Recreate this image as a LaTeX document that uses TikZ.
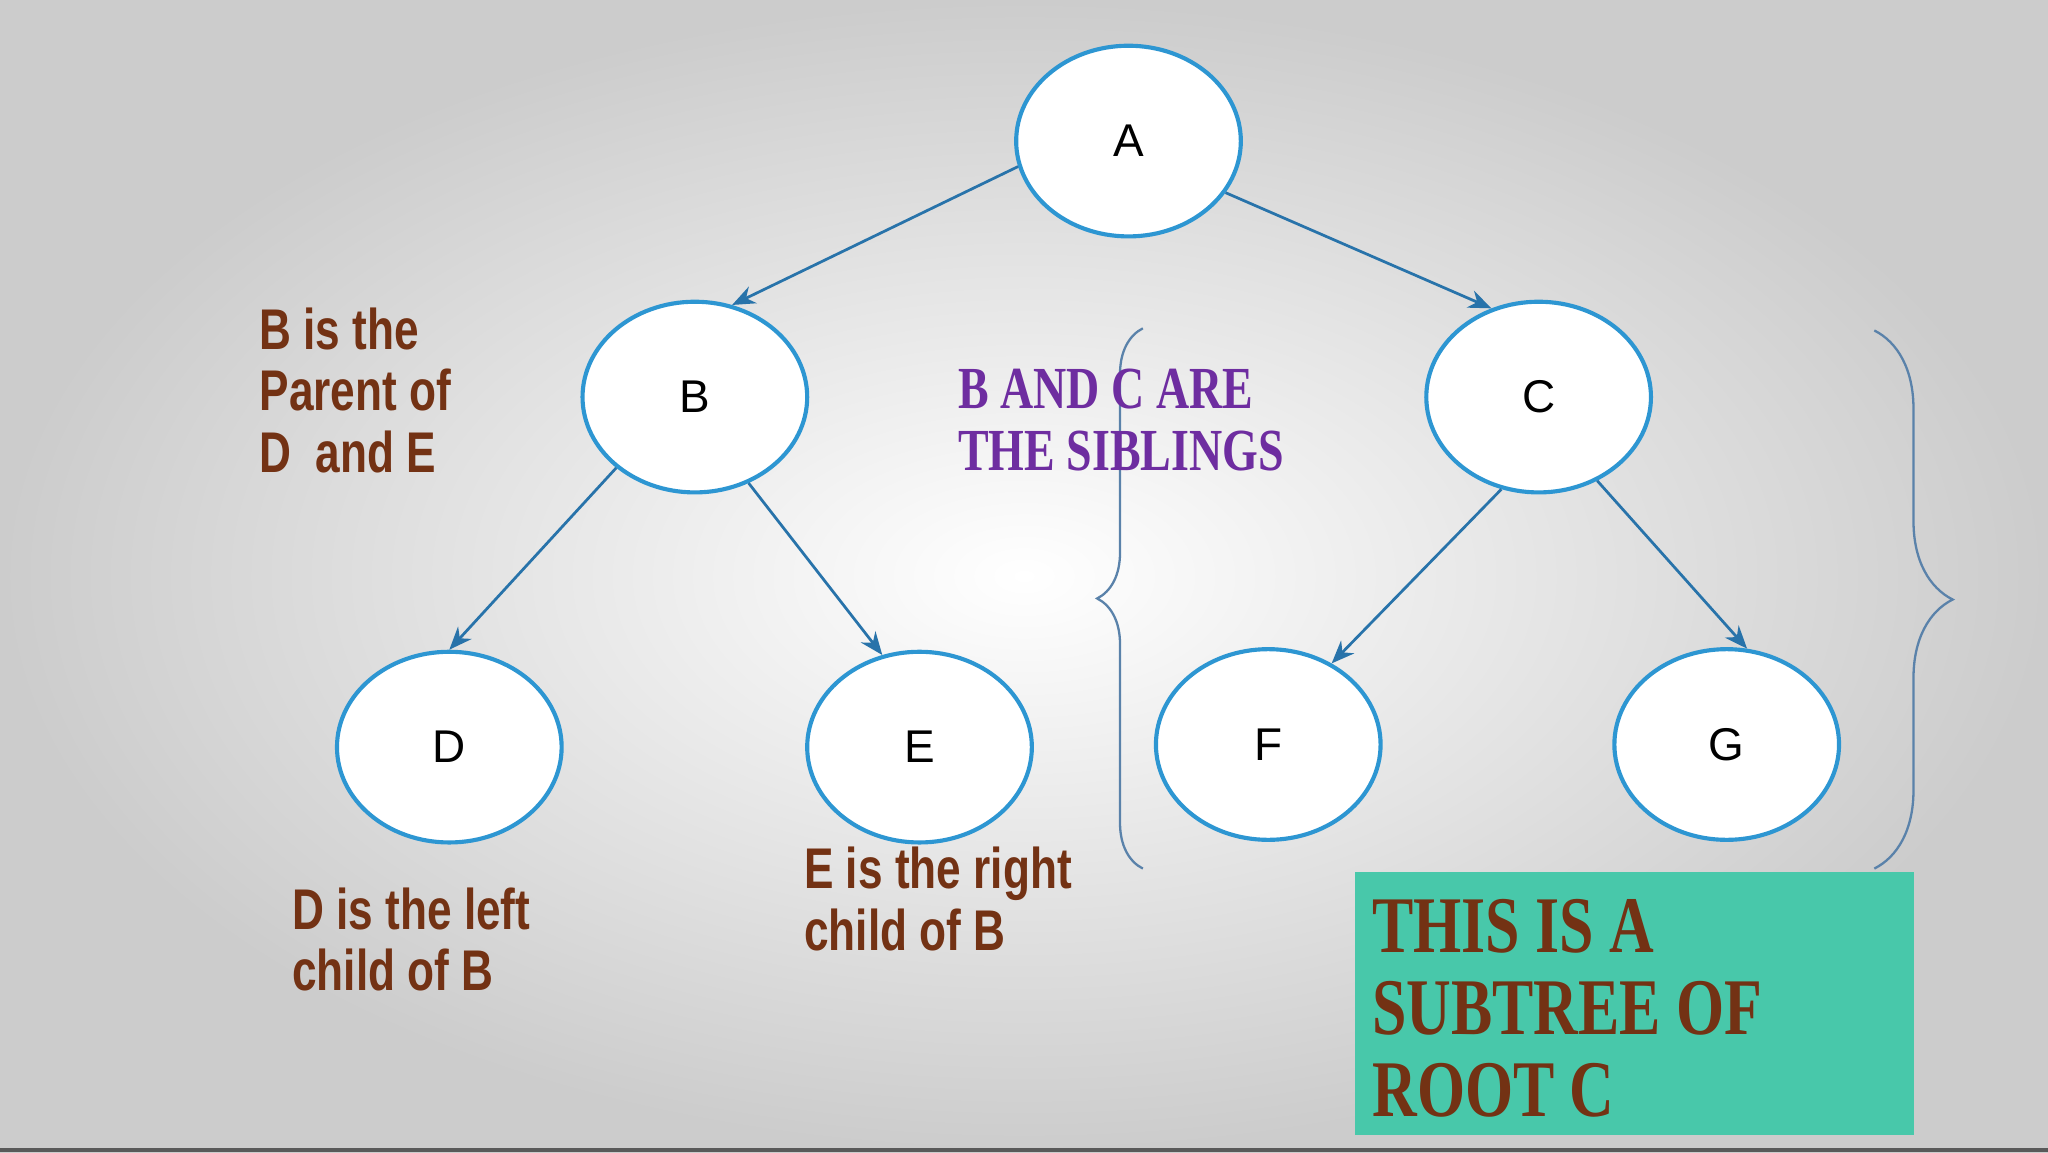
\documentclass[tikz,border=0pt]{standalone}
\usepackage{fontspec}
\setmainfont{Liberation Serif}
\setsansfont{Liberation Sans}
\newfontfamily\narrowsans[FakeStretch=0.77]{Liberation Sans}
\newfontfamily\narrowserif[FakeStretch=0.77]{Liberation Serif}
\usetikzlibrary{decorations.pathreplacing,arrows.meta,shapes.geometric}
\definecolor{nodeblue}{RGB}{45,150,210}
\definecolor{edgeblue}{RGB}{40,115,170}
\definecolor{brownt}{RGB}{115,50,20}
\definecolor{purplet}{RGB}{110,45,160}
\definecolor{greenbox}{RGB}{72,200,170}
\definecolor{bracec}{RGB}{90,130,170}
\tikzset{
  treenode/.style={ellipse,draw=nodeblue,line width=0.9pt,fill=white,minimum width=1.72cm,minimum height=1.46cm,inner sep=0pt,font=\sffamily\fontsize{10}{12}\selectfont},
  edge/.style={draw=edgeblue,line width=0.6pt,-{Stealth[length=5pt,width=4pt]}},
  note/.style={anchor=north west,align=left,text=brownt,font=\narrowsans\bfseries\fontsize{12.5}{13.4}\selectfont,inner sep=0pt},
  bracel/.style={draw=bracec,line width=0.5pt,decorate,decoration={brace,amplitude=0.35cm}}
}
\begin{document}
\begin{tikzpicture}
\useasboundingbox (0,0) rectangle (15.68,8.82);
\shade[inner color=white,outer color=gray!40] (0,0) rectangle (15.68,8.82);
\fill[gray!70!black] (0,0) rectangle (15.68,0.03);
% nodes
\node[treenode] (A) at (8.64,7.74) {A};
\node[treenode] (B) at (5.32,5.78) {B};
\node[treenode] (C) at (11.78,5.78) {C};
\node[treenode] (D) at (3.44,3.10) {D};
\node[treenode] (E) at (7.04,3.10) {E};
\node[treenode] (F) at (9.71,3.12) {F};
\node[treenode] (G) at (13.22,3.12) {G};
% edges
\draw[edge] (A.193) -- (B.68);
\draw[edge] (A.-28) -- (C.118);
\draw[edge] (B.-138) -- (D.90);
\draw[edge] (B.-58) -- (E.112);
\draw[edge] (C.-112) -- (F.52);
\draw[edge] (C.-55) -- (G.78);
% braces
\coordinate (lb1) at (9.05,6.29);
\coordinate (lb2) at (8.75,2.17);
\draw[bracel] (lb2) .. controls (8.75,4) .. (lb1);
\draw[bracel,decoration={brace,amplitude=0.6cm}] (14.35,6.29) -- (14.35,2.17);
% green box
\node[fill=greenbox,minimum width=4.28cm,minimum height=2.01cm,anchor=north west,inner sep=0pt] (box) at (10.37,2.15) {};
\node[anchor=north west,align=left,text=brownt,font=\narrowserif\bfseries\fontsize{17.5}{17.8}\selectfont,inner sep=0pt] (boxt) at (10.50,1.94) {THIS IS A\\SUBTREE OF\\ROOT C};
% notes
\node[note] (n1) at (1.98,6.47) {B is the\\Parent of\\D~~and E};
\node[note] (n2) at (2.23,2.03) {D is the left\\child of B};
\node[note] (n3) at (6.15,2.34) {E is the right\\child of B};
\node[anchor=north west,align=left,text=purplet,font=\narrowserif\bfseries\fontsize{13}{13.4}\selectfont,inner sep=0pt] (sib) at (7.33,6.00) {B AND C ARE\\THE SIBLINGS};
\end{tikzpicture}
\end{document}
